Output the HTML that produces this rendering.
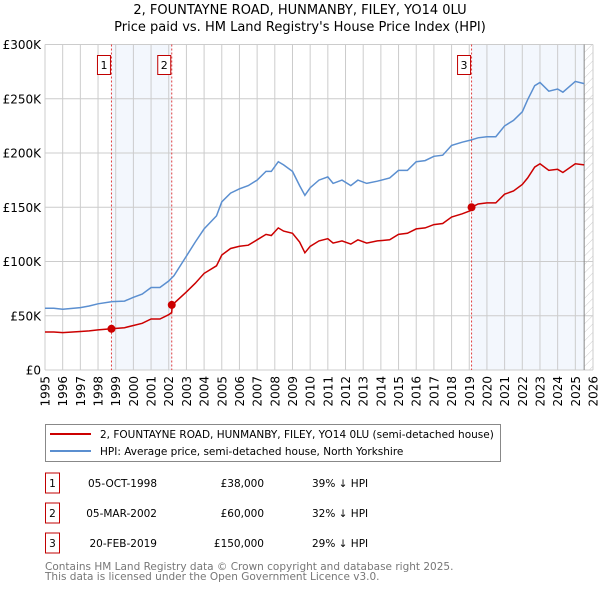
<!DOCTYPE html>
<html><head><meta charset="utf-8"><style>
body{margin:0;background:#fff;}
svg{display:block;font-family:"DejaVu Sans","Liberation Sans",sans-serif;}
</style></head><body>
<svg id="chart" width="600" height="590" viewBox="0 0 600 590">
<defs><pattern id="hatch" width="6" height="6" patternUnits="userSpaceOnUse" patternTransform="rotate(45)"><line x1="0" y1="0" x2="0" y2="6" stroke="#ccc" stroke-width="1"/></pattern></defs>
<text x="300" y="14" text-anchor="middle" font-size="13">2, FOUNTAYNE ROAD, HUNMANBY, FILEY, YO14 0LU</text>
<text x="300" y="31" text-anchor="middle" font-size="13">Price paid vs. HM Land Registry's House Price Index (HPI)</text>
<g id="plot"></g>
<g>
<rect x="45.5" y="424.5" width="455" height="37" fill="#fff" stroke="#888"/>
<line x1="50" y1="434" x2="91" y2="434" stroke="#cc0000" stroke-width="2"/>
<text x="100" y="438" font-size="10.5">2, FOUNTAYNE ROAD, HUNMANBY, FILEY, YO14 0LU (semi-detached house)</text>
<line x1="50" y1="451" x2="91" y2="451" stroke="#5b8fd0" stroke-width="2"/>
<text x="100" y="455" font-size="10.5">HPI: Average price, semi-detached house, North Yorkshire</text>
</g>
<g id="table" font-size="10.5"></g>
<text x="45" y="570" font-size="10.5" fill="#777">Contains HM Land Registry data © Crown copyright and database right 2025.</text>
<text x="45" y="580" font-size="10.5" fill="#777">This data is licensed under the Open Government Licence v3.0.</text>
</svg>
<script>
const hpiYears=[1995,1995.5,1996,1997,1997.5,1998,1998.8,1999.5,2000,2000.5,2001,2001.5,2002,2002.3,2003,2003.5,2004,2004.7,2005,2005.5,2006,2006.5,2007,2007.5,2007.8,2008.2,2008.5,2009,2009.4,2009.7,2010,2010.5,2011,2011.3,2011.8,2012.3,2012.7,2013.2,2013.8,2014.5,2015,2015.5,2016,2016.5,2017,2017.5,2018,2018.6,2019.1,2019.5,2020,2020.5,2021,2021.5,2022,2022.3,2022.7,2023,2023.5,2024,2024.3,2025,2025.5];
const hpiValues=[57,57,56,57.5,59,61,63,63.5,67,70,76,76,82,87,105,118,130,142,155,163,167,170,175,183,183,192,189,183,170,161,168,175,178,172,175,170,175,172,174,177,184,184,192,193,197,198,207,210,212,214,215,215,225,230,238,249,262,265,257,259,256,266,264];
const redYears=[1995,1995.5,1996,1997,1997.5,1998,1998.76,1999.5,2000,2000.5,2001,2001.5,2002,2002.17,2002.2,2003,2003.5,2004,2004.7,2005,2005.5,2006,2006.5,2007,2007.5,2007.8,2008.2,2008.5,2009,2009.4,2009.7,2010,2010.5,2011,2011.3,2011.8,2012.3,2012.7,2013.2,2013.8,2014.5,2015,2015.5,2016,2016.5,2017,2017.5,2018,2018.6,2019.1,2019.13,2019.5,2020,2020.5,2021,2021.5,2022,2022.3,2022.7,2023,2023.5,2024,2024.3,2025,2025.5];
const redValues=[35,35,34.5,35.5,36,37,38,39,41,43,47,47,51,53,60,72,80,89,96,106,112,114,115,120,125,124,131,128,126,118,108,114,119,121,117,119,116,120,117,119,120,125,126,130,131,134,135,141,144,147,150,153,154,154,162,165,171,177,187,190,184,185,182,190,189];
const saleLabels=["1","2","3"];
const saleYears=[1998.76,2002.17,2019.13];
const salePrices=[38,60,150];
const saleDates=["05-OCT-1998","05-MAR-2002","20-FEB-2019"];
const salePriceText=["£38,000","£60,000","£150,000"];
const saleDiffText=["39% ↓ HPI","32% ↓ HPI","29% ↓ HPI"];
const yTicks=[0,50,100,150,200,250,300];
const yTickLabels=["£0","£50K","£100K","£150K","£200K","£250K","£300K"];
const dataEnd=2025.5;

const NS="http://www.w3.org/2000/svg";
const X0=45,X1=593,Y0=370,Y1=44.5;
const x=v=>X0+(v-1995)*(X1-X0)/31;
const y=v=>Y0-(v)*(Y0-Y1)/300;
function mk(tag,attrs,parent,text){const e=document.createElementNS(NS,tag);for(const k in attrs)e.setAttribute(k,attrs[k]);if(text!==undefined)e.textContent=text;parent.appendChild(e);return e;}
const plot=document.getElementById('plot');
let e;
e=mk('rect',{x:x(saleYears[0]),y:Y1,width:x(saleYears[1])-x(saleYears[0]),height:Y0-Y1,fill:'#eef3fc',opacity:0.7},plot);


e=mk('rect',{x:x(saleYears[2]),y:Y1,width:x(dataEnd)-x(saleYears[2]),height:Y0-Y1,fill:'#eef3fc',opacity:0.7},plot);


e=mk('rect',{x:x(dataEnd),y:Y1,width:X1-x(dataEnd),height:Y0-Y1,fill:'url(#hatch)'},plot);


for(let yr=1995;yr<=2026;yr++){
  e=mk('line',{x1:x(yr),x2:x(yr),y1:Y1,y2:Y0,stroke:'#ccc','stroke-width':1},plot);
  
  
  e=mk('text',{transform:`translate(${x(yr)+4.5},376) rotate(-90)`,'text-anchor':'end','font-size':12},plot,String(yr));
  
  
}
yTicks.forEach((t,i)=>{
  e=mk('line',{x1:X0,x2:X1,y1:y(t),y2:y(t),stroke:'#ccc','stroke-width':1},plot);
  
  
  e=mk('text',{x:X0-4,y:y(t)+4.5,'text-anchor':'end','font-size':12},plot,yTickLabels[i]);
  
  
});
e=mk('line',{x1:x(dataEnd),x2:x(dataEnd),y1:Y1,y2:Y0,stroke:'#888','stroke-width':1},plot);


saleYears.forEach((s,i)=>{
  e=mk('line',{x1:x(s),x2:x(s),y1:Y1,y2:Y0,stroke:'#e04040','stroke-width':1,'stroke-dasharray':'2,2'},plot);
  
  
  e=mk('rect',{x:x(s)-14,y:55.5,width:13,height:19,fill:'#fff',stroke:'#c00000'},plot);
  
  
  e=mk('text',{x:x(s)-7.5,y:69,'text-anchor':'middle','font-size':11},plot,saleLabels[i]);
  
  
});
const pts=(xs,vs)=>xs.map((v,i)=>x(v).toFixed(1)+','+y(vs[i]).toFixed(1)).join(' ');
e=mk('polyline',{points:pts(hpiYears,hpiValues),fill:'none',stroke:'#5b8fd0','stroke-width':1.5},plot);


e=mk('polyline',{points:pts(redYears,redValues),fill:'none',stroke:'#cc0000','stroke-width':1.5},plot);


saleYears.forEach((s,i)=>{
  e=mk('circle',{cx:x(s),cy:y(salePrices[i]),r:4,fill:'#cc0000'},plot);
  
  
});
const tb=document.getElementById('table');
saleLabels.forEach((l,i)=>{
  const cy=483+i*30;
  e=mk('rect',{x:45.5,y:cy-10,width:14,height:20,fill:'#fff',stroke:'#c00000'},tb);
  
  
  e=mk('text',{x:52.5,y:cy+4,'text-anchor':'middle'},tb,l);
  
  
  e=mk('text',{x:157,y:cy+4,'text-anchor':'end'},tb,saleDates[i]);
  
  
  e=mk('text',{x:264,y:cy+4,'text-anchor':'end'},tb,salePriceText[i]);
  
  
  e=mk('text',{x:312,y:cy+4},tb,saleDiffText[i]);
  
  
});
</script>
</body></html>
